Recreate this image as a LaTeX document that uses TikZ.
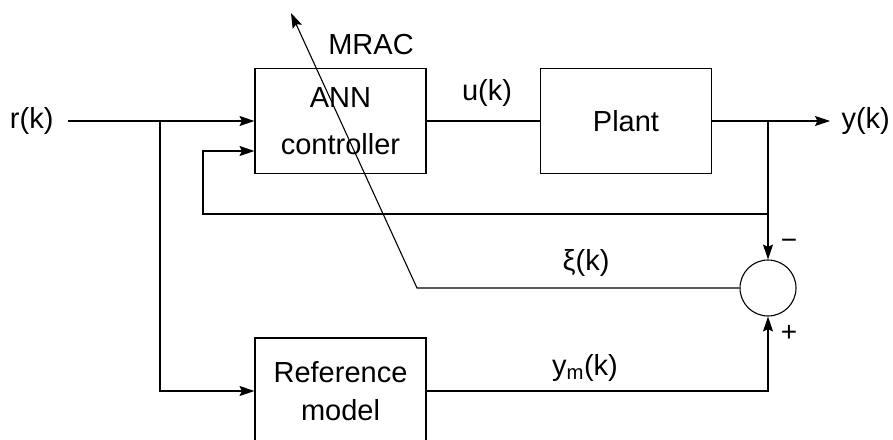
\documentclass[tikz,border=0pt]{standalone}
\usepackage{fontspec}
\setmainfont{Liberation Sans}
\usetikzlibrary{arrows.meta}
\begin{document}
\begin{tikzpicture}[x=1pt, y=-1pt, line width=1.1pt,
    font=\fontsize{29}{38}\selectfont,
    >={Stealth[length=15pt, width=10pt, inset=2.5pt]},
    block/.style={draw, minimum width=171pt, minimum height=105pt, align=center, inner sep=0pt},
    sumpt/.style={circle, draw, minimum size=56pt, inner sep=0pt},
    sign/.style={font=\fontsize{28}{30}\selectfont}]
    \useasboundingbox (0,0) rectangle (893,439);
    \clip (0,0) rectangle (893,439);
    % blocks
    \node (ann) at (340.5,121) [block] {ANN\\[9pt]controller};
    \node (plant) at (626,121) [block] {Plant};
    \node (ref) at (340.5,391) [block, minimum height=106pt] {Reference\\model};
    \node (sum) at (768,288) [sumpt] {};
    % signals
    \node (rin) at (68,121) [anchor=east, inner xsep=14pt] {r(k)};
    \node (yout) at (830,121) [anchor=west, inner xsep=11pt] {y(k)};
    \coordinate (rsplit) at (160,121);
    \coordinate (ysplit) at (768,121);
    \coordinate (fbleft) at (203,214);
    \coordinate (fbup) at (203,151);
    \coordinate (bend) at (417,288);
    \coordinate (tip) at (291,13);
    % connections
    \draw[->] (rin) -- (ann.west);
    \draw (ann.east) -- (plant.west);
    \draw (plant.east) -- (ysplit);
    \draw[->] (ysplit) -- (yout.west);
    \draw[->] (ysplit) -- (sum.north);
    \draw[->] (ysplit |- fbleft) -- (fbleft) -- (fbup) -- (fbup -| ann.west);
    \draw[->] (rsplit) |- (ref.west);
    \draw[->] (ref.east) -| (sum.south);
    \draw[->] (sum.west) -- (bend) -- (tip);
    % labels
    \node (ulbl) at (487,93) {u(k)};
    \node (xilbl) at (586,263) {ξ(k)};
    \node (ymlbl) at (585,368) {y\textsubscript{m}(k)};
    \node (mrac) at (371,45) {MRAC};
    \node (minus) at (789,244) [sign] {−};
    \node (plus) at (789,333) [sign] {+};
\end{tikzpicture}
\end{document}
